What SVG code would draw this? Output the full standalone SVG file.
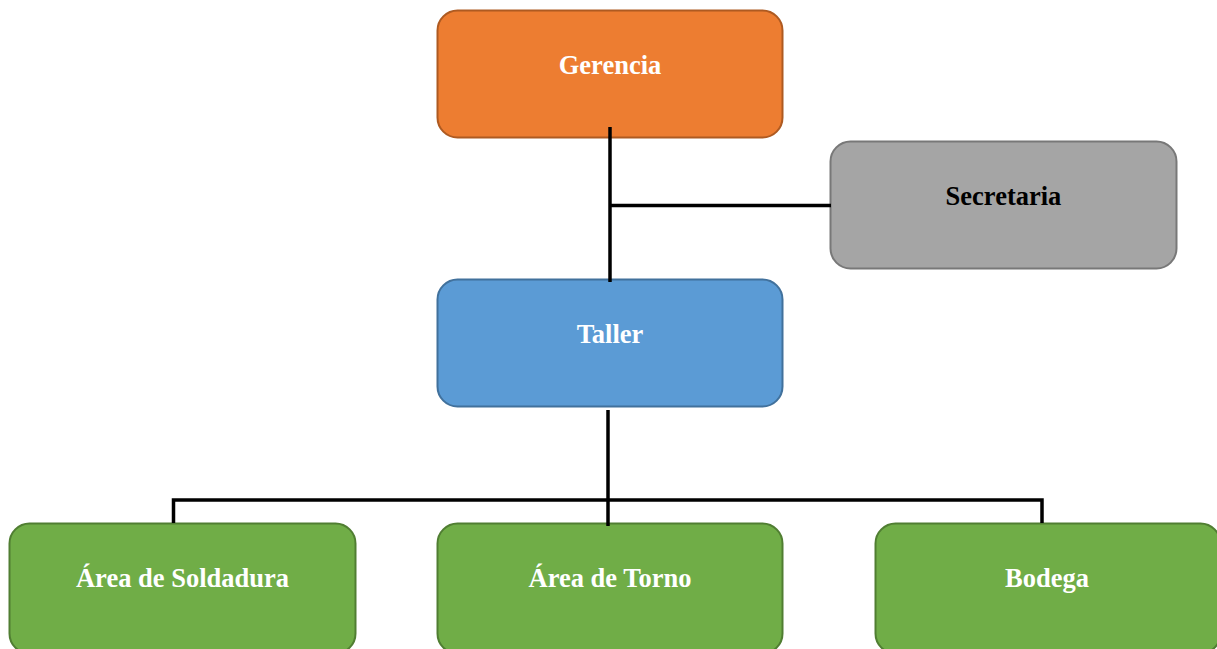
<svg xmlns="http://www.w3.org/2000/svg" width="1217" height="649" viewBox="0 0 1217 649">
<style>
.box{stroke-width:2}
.lbl{font-family:"Liberation Serif","Times New Roman",serif;font-weight:bold;font-size:26.5px;text-anchor:middle}
.w{fill:#FFFFFF}
.k{fill:#000000}
.conn{stroke:#000000;stroke-width:3.5;fill:none}
</style>
<rect width="1217" height="649" fill="#FFFFFF"/>
<g id="gerencia">
<rect class="box" x="437.5" y="10.5" width="345" height="127" rx="20" fill="#ED7D31" stroke="#AE5A21"/>
<text class="lbl w" x="610" y="74">Gerencia</text>
</g>
<g id="secretaria">
<rect class="box" x="830.5" y="141.5" width="346" height="127" rx="20" fill="#A5A5A5" stroke="#787878"/>
<text class="lbl k" x="1003.5" y="205">Secretaria</text>
</g>
<g id="taller">
<rect class="box" x="437.5" y="279.5" width="345" height="127" rx="20" fill="#5B9BD5" stroke="#41719C"/>
<text class="lbl w" x="610" y="343">Taller</text>
</g>
<g id="soldadura">
<rect class="box" x="9.5" y="523.5" width="346" height="130" rx="20" fill="#70AD47" stroke="#507E32"/>
<text class="lbl w" x="182.5" y="587">Área de Soldadura</text>
</g>
<g id="torno">
<rect class="box" x="437.5" y="523.5" width="345" height="130" rx="20" fill="#70AD47" stroke="#507E32"/>
<text class="lbl w" x="610" y="587">Área de Torno</text>
</g>
<g id="bodega">
<rect class="box" x="875.5" y="523.5" width="345" height="130" rx="20" fill="#70AD47" stroke="#507E32"/>
<text class="lbl w" x="1047" y="587">Bodega</text>
</g>
<g id="connectors">
<line class="conn" x1="610" y1="127" x2="610" y2="282"/>
<line class="conn" x1="610" y1="205.5" x2="831" y2="205.5"/>
<line class="conn" x1="608" y1="410" x2="608" y2="526"/>
<polyline class="conn" points="173.5,523 173.5,500 1042,500 1042,523"/>
</g>
</svg>
